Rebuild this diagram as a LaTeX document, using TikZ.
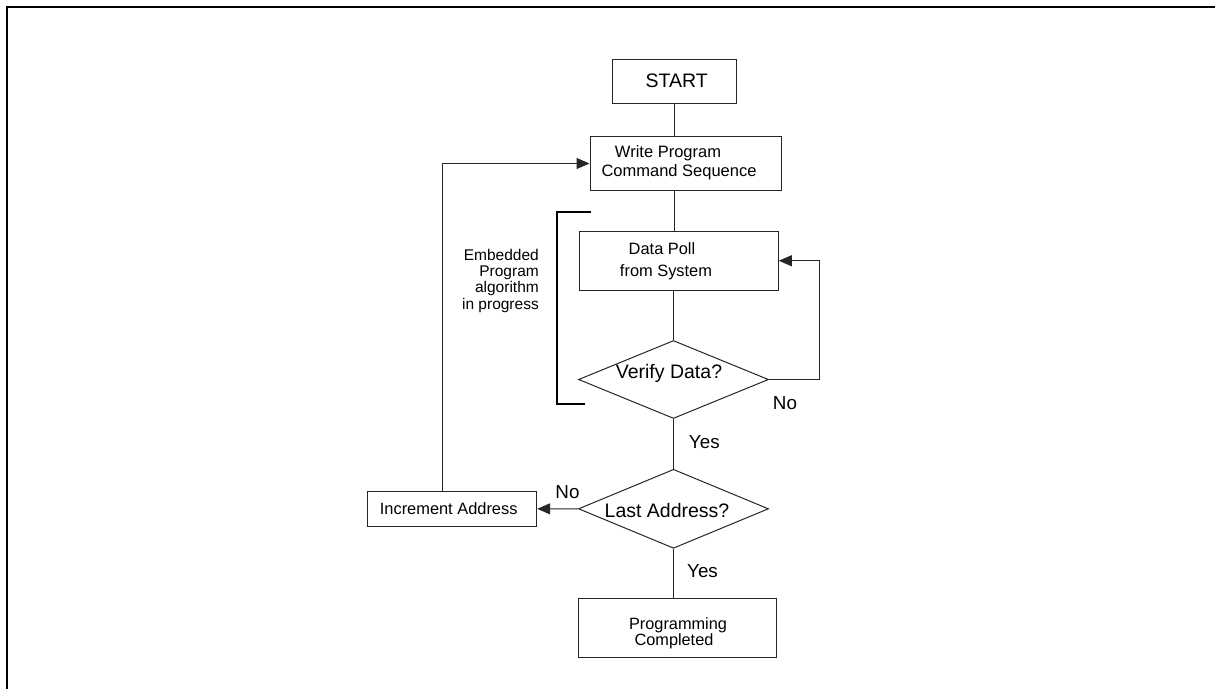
\documentclass[tikz,border=0pt]{standalone}
\usepackage{fontspec}
\setmainfont{Liberation Sans}
\usetikzlibrary{shapes.geometric,arrows.meta}
\tikzset{
  box/.style={draw=black!85, line width=1pt, rectangle, inner sep=0pt},
  dia/.style={draw=black!85, line width=1pt, diamond, inner sep=0pt, minimum width=190pt, minimum height=78pt},
  conn/.style={draw=black!85, line width=1pt},
  arr/.style={conn, -{Triangle[length=13pt,width=11pt]}},
  lbl/.style={inner sep=0pt, anchor=base},
  big/.style={font=\fontsize{19.5}{22}\selectfont},
  mid/.style={font=\fontsize{18.8}{22}\selectfont},
  frame/.style={line width=2.5pt, black},
  brk/.style={line width=2pt, black},
}
\begin{document}
\begin{tikzpicture}[x=1pt,y=-1pt]
\useasboundingbox (0,0) rectangle (1215,689);
% outer frame (top and left edges)
\draw[frame] (7,689) -- (7,7) -- (1215,7);

% boxes
\node[box, minimum width=124pt, minimum height=44pt] (start) at (674,81) {};
\node[box, minimum width=191.7pt, minimum height=53.6pt] (write) at (685.85,163.5) {};
\node[box, minimum width=199pt, minimum height=59.5pt] (poll) at (678.8,260.75) {};
\node[dia] (verify) at (673.5,379.5) {};
\node[dia, minimum height=79pt] (last) at (673.5,508.8) {};
\node[box, minimum width=169pt, minimum height=35.7pt] (inc) at (452.2,508.85) {};
\node[box, minimum width=198.4pt, minimum height=59.4pt] (prog) at (677.5,628) {};

% texts
\node[lbl, big] (tstart) at (676.7,87.3) {START};
\node[inner sep=0pt, align=center, font=\fontsize{16.5}{19}\selectfont] (twrite) at (679,162.4) {Write Program\hspace*{22pt}\\Command Sequence};
\node[inner sep=0pt, align=center, font=\fontsize{16.4}{22}\selectfont] (tpoll) at (666,261.3) {Data Poll\hspace*{8pt}\\from System};
\node[lbl, big] (tverify) at (669,378.3) {Verify Data?};
\node[lbl, big] (tlast) at (667,517.3) {Last Address?};
\node[lbl, font=\fontsize{16.4}{19}\selectfont] (tinc) at (448.7,514.3) {Increment Address};
\node[inner sep=0pt, align=center, font=\fontsize{16.3}{16}\selectfont] (tprog) at (678,632.9) {Programming\\Completed\hspace*{8pt}};
\node[inner sep=0pt, anchor=east, align=right, font=\fontsize{15.5}{16.3}\selectfont] (temb) at (539,280.6) {Embedded\\Program\\algorithm\\in progress};
\node[lbl, mid] (nov) at (785,409.3) {No};
\node[lbl, mid] (yesv) at (704.3,448) {Yes};
\node[lbl, mid] (nol) at (567.5,498.3) {No};
\node[lbl, mid] (yesl) at (702.5,577) {Yes};

% connectors
\draw[conn] (start.south) -- (start.south |- write.north);
\draw[conn] (start.south |- write.south) -- (start.south |- poll.north);
\draw[conn] (verify.north |- poll.south) -- (verify.north);
\draw[conn] (verify.south) -- (last.north);
\draw[conn] (last.south) -- (last.south |- prog.north);
\coordinate (vloop) at (819.3,380);
\draw[arr] (verify.east) -- (vloop |- verify.east) -- (vloop |- poll.east) -- (poll.east);
\draw[arr] (last.west) -- (inc.east);
\coordinate (fb) at (442.7,300);
\draw[arr] (fb |- inc.north) -- (fb |- write.west) -- (write.west);

% bracket
\coordinate (bt) at (590.7,211.7);
\coordinate (bb) at (585,404.3);
\draw[brk] (bt) -- (556.7,211.7) -- (556.7,404.3) -- (bb);
\end{tikzpicture}
\end{document}
